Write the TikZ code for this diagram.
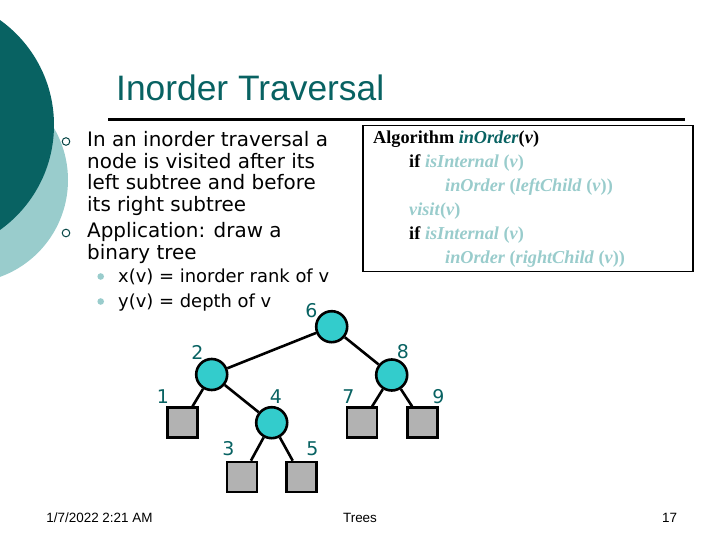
\documentclass[tikz,border=0pt]{standalone}
\usepackage{fontspec}
\setmainfont{DejaVu Sans}
\newfontfamily\titlefont{Liberation Sans}
\newfontfamily\algfont{Liberation Serif}
\newfontfamily\footfont{Liberation Sans}
\definecolor{dteal}{RGB}{8,98,98}
\definecolor{lteal}{RGB}{153,204,204}
\definecolor{nodefill}{RGB}{51,204,204}
\definecolor{leaffill}{RGB}{178,178,178}
\tikzset{
  bodytext/.style={anchor=base west,inner sep=0pt,font=\fontsize{20}{24}\selectfont},
  subtext/.style={anchor=base west,inner sep=0pt,font=\fontsize{18}{22}\selectfont},
  algtext/.style={anchor=base west,inner sep=0pt,font=\algfont\fontsize{18.3}{22}\selectfont},
  inner/.style={circle,draw=black,line width=2.6bp,fill=nodefill,minimum size=31bp,inner sep=0pt},
  leaf/.style={rectangle,draw=black,line width=2.6bp,fill=leaffill,minimum size=30bp,inner sep=0pt},
  edge/.style={draw=black,line width=2.6bp},
  lbl/.style={text=dteal,inner sep=0pt,font=\fontsize{19}{22}\selectfont},
  foot/.style={anchor=base,inner sep=0pt,font=\footfont\fontsize{13.5}{16}\selectfont},
  ring/.style={draw=dteal!70!black,line width=1bp},
}
\begin{document}
\begin{tikzpicture}[x=1bp,y=-1bp]
\useasboundingbox (0,0) rectangle (720,540);
\begin{scope}
\clip (0,0) rectangle (720,540);
\fill[lteal] (-35,180) circle (103);
\fill[dteal] (-75,125) circle (129);
\end{scope}
% title
\node[anchor=base west,inner sep=0pt,text=dteal,font=\titlefont\fontsize{35.5}{40}\selectfont] (title) at (116,101) {Inorder Traversal};
\draw[line width=2.5bp] (108,119.5) -- (685,119.5);
% bullets
\draw[ring] (66,141.5) circle (3.8);
\draw[ring] (66,233) circle (3.8);
\node[bodytext] (b1) at (87,147) {In an inorder traversal a};
\node[bodytext] (b2) at (87,168.5) {node is visited after its};
\node[bodytext] (b3) at (87,190) {left subtree and before};
\node[bodytext] (b4) at (87,211.5) {its right subtree};
\node[bodytext] (b5) at (87,238) {Application: draw a};
\node[bodytext] (b6) at (87,259.5) {binary tree};
\fill[lteal] (100.7,276.5) circle (3.3);
\fill[lteal] (100.7,301.5) circle (3.3);
\node[subtext] (s1) at (118,283) {x(v) = inorder rank of v};
\node[subtext] (s2) at (118,307) {y(v) = depth of v};
% algorithm box
\draw[line width=1.5bp,fill=white] (363,125.5) rectangle (693,271.5);
\node[algtext] (a1) at (373,144) {\textbf{Algorithm} \textcolor{dteal}{\textbf{\textit{inOrder}}}\textbf{(\textit{v})}};
\node[algtext] (a2) at (409,168) {\textbf{if} \textcolor{lteal}{\textbf{\textit{isInternal} (\textit{v})}}};
\node[algtext] (a3) at (445,192) {\textcolor{lteal}{\textbf{\textit{inOrder} (\textit{leftChild} (\textit{v}))}}};
\node[algtext] (a4) at (409,216) {\textcolor{lteal}{\textbf{\textit{visit}(\textit{v})}}};
\node[algtext] (a5) at (409,240) {\textbf{if} \textcolor{lteal}{\textbf{\textit{isInternal} (\textit{v})}}};
\node[algtext] (a6) at (445,264) {\textcolor{lteal}{\textbf{\textit{inOrder} (\textit{rightChild} (\textit{v}))}}};
% tree
\node[inner] (n6) at (331.7,326.7) {};
\node[inner] (n2) at (211.7,374.5) {};
\node[inner] (n8) at (391.7,375) {};
\node[inner] (n4) at (271.7,422.7) {};
\node[leaf] (l1) at (182.7,422.7) {};
\node[leaf] (l3) at (242,477) {};
\node[leaf] (l5) at (301.7,477) {};
\node[leaf] (l7) at (362,422.7) {};
\node[leaf] (l9) at (422.7,422.7) {};
\draw[edge] (n6) -- (n2);
\draw[edge] (n6) -- (n8);
\draw[edge] (n2) -- (l1);
\draw[edge] (n2) -- (n4);
\draw[edge] (n4) -- (l3);
\draw[edge] (n4) -- (l5);
\draw[edge] (n8) -- (l7);
\draw[edge] (n8) -- (l9);
\node[lbl] (t6) at (311.5,310.5) {6};
\node[lbl] (t2) at (197.5,352) {2};
\node[lbl] (t8) at (403,352) {8};
\node[lbl] (t1) at (163,397) {1};
\node[lbl] (t4) at (276,397) {4};
\node[lbl] (t7) at (348.5,397) {7};
\node[lbl] (t9) at (438.5,397) {9};
\node[lbl] (t3) at (228.5,448.5) {3};
\node[lbl] (t5) at (312.5,448.5) {5};
% footer
\node[foot] (f1) at (99.5,522) {1/7/2022 2:21 AM};
\node[foot] (f2) at (360,522) {Trees};
\node[foot] (f3) at (669.5,522) {17};
\end{tikzpicture}
\end{document}
